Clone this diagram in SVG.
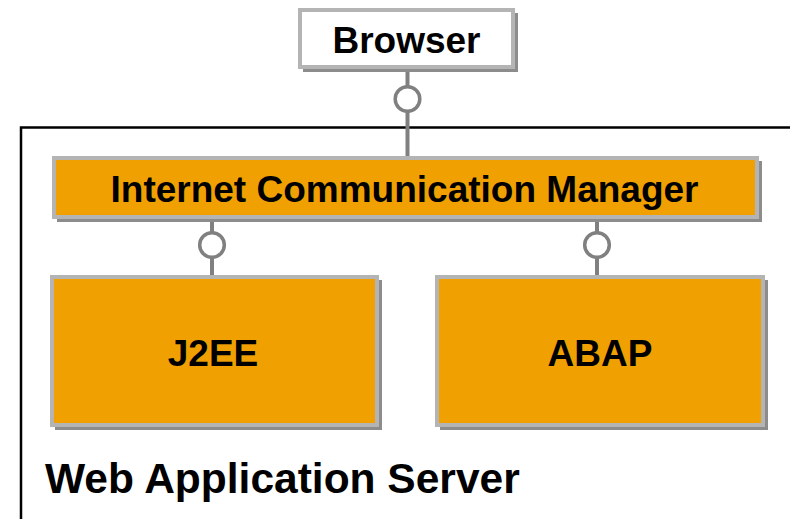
<svg xmlns="http://www.w3.org/2000/svg" width="790" height="519" viewBox="0 0 790 519">
<style>
.shadow{fill:#8c8c8c;}
.box{stroke:#b4b4b4;stroke-width:4;}
.orange{fill:#f0a000;}
.white{fill:#ffffff;}
.lbl{font-family:"Liberation Sans",Arial,sans-serif;font-weight:bold;font-size:37px;fill:#000;text-anchor:middle;}
.conn{stroke:#808080;stroke-width:4;fill:none;}
.sock{stroke:#808080;stroke-width:3.5;fill:#ffffff;}
</style>
<rect width="790" height="519" fill="#ffffff"/>
<g id="web-application-server">
<rect x="21" y="127.5" width="800" height="420" fill="none" stroke="#000" stroke-width="2.5"/>
<text x="45" y="493" style="font-family:'Liberation Sans',Arial,sans-serif;font-weight:bold;font-size:42.5px;fill:#000">Web Application Server</text>
</g>
<g id="connectors">
<line class="conn" x1="407.5" y1="70" x2="407.5" y2="157"/>
<circle class="sock" cx="407.5" cy="99" r="12.3"/>
<line class="conn" x1="212" y1="219" x2="212" y2="276"/>
<circle class="sock" cx="212" cy="245" r="12.3"/>
<line class="conn" x1="597" y1="219" x2="597" y2="276"/>
<circle class="sock" cx="597" cy="245" r="12.3"/>
</g>
<g id="browser">
<rect class="shadow" x="303" y="13" width="215" height="59"/>
<rect class="box white" x="300" y="10" width="213" height="57"/>
<text class="lbl" x="406.5" y="53">Browser</text>
</g>
<g id="icm">
<rect class="shadow" x="57" y="161" width="705" height="61"/>
<rect class="box orange" x="54" y="158" width="703" height="59"/>
<text class="lbl" x="404.5" y="201.5">Internet Communication Manager</text>
</g>
<g id="j2ee">
<rect class="shadow" x="55" y="280" width="327" height="150"/>
<rect class="box orange" x="52" y="277" width="325" height="148"/>
<text class="lbl" x="213" y="366">J2EE</text>
</g>
<g id="abap">
<rect class="shadow" x="440" y="280" width="328" height="150"/>
<rect class="box orange" x="437" y="277" width="326" height="148"/>
<text class="lbl" x="600" y="366">ABAP</text>
</g>
</svg>
